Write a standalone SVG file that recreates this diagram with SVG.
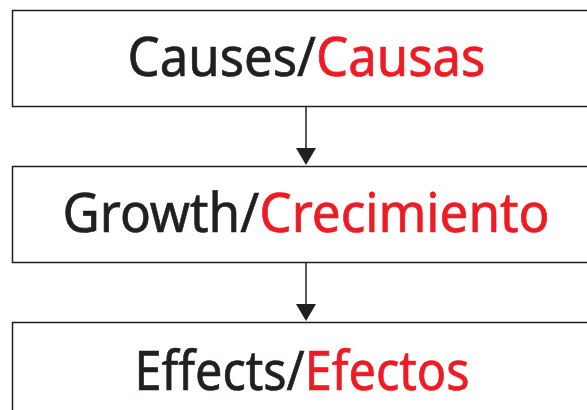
<svg xmlns="http://www.w3.org/2000/svg" width="587" height="410" viewBox="0 0 587 410">
  <style>
    .box { fill: #ffffff; stroke: #231f20; stroke-width: 1.5; }
    .lbl { font-family: "Noto Sans", "Open Sans", sans-serif; font-size: 54px; fill: #231f20; stroke: #231f20; stroke-width: 0.7; text-anchor: middle; }
    .es { fill: #ed1c24; stroke: #ed1c24; }
    .conn { stroke: #231f20; stroke-width: 1.5; fill: none; }
  </style>

  <g id="causes">
    <rect class="box" x="12.5" y="10.5" width="590" height="96"/>
    <text class="lbl" x="306.5" y="76" textLength="358" lengthAdjust="spacingAndGlyphs">Causes/<tspan class="es">Causas</tspan></text>
  </g>

  <g id="growth">
    <rect class="box" x="12.5" y="166.5" width="590" height="96"/>
    <text class="lbl" x="306" y="232" textLength="487" lengthAdjust="spacingAndGlyphs">Growth/<tspan class="es">Crecimiento</tspan></text>
  </g>

  <g id="effects">
    <rect class="box" x="12.5" y="322.5" width="590" height="120"/>
    <text class="lbl" x="302" y="390" textLength="335" lengthAdjust="spacingAndGlyphs">Effects/<tspan class="es">Efectos</tspan></text>
  </g>

  <g id="connectors">
    <line class="conn" x1="306" y1="106.5" x2="306" y2="148"/>
    <path d="M296 148 L316 148 L306 165 Z" fill="#231f20"/>
    <line class="conn" x1="306" y1="262.5" x2="306" y2="304"/>
    <path d="M296 304 L316 304 L306 321 Z" fill="#231f20"/>
  </g>
</svg>
